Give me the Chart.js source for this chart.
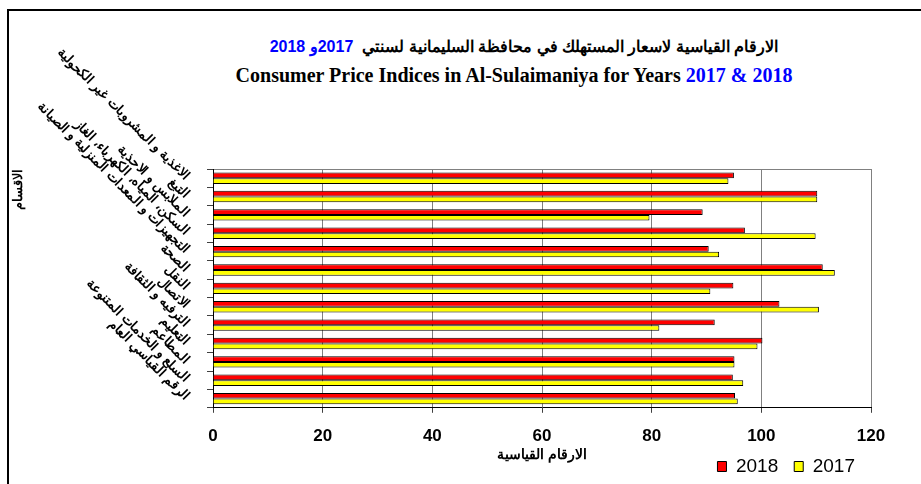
<!DOCTYPE html>
<html lang="ar">
<head>
    <meta charset="UTF-8">
    <title>Consumer Price Indices in Al-Sulaimaniya</title>
    <script src="https://cdn.jsdelivr.net/npm/chart.js"></script>
    <style>
        body {
            margin: 0;
            background: #fff;
            overflow: hidden;
        }
        .wrap {
            position: relative;
            width: 921px;
            height: 484px;
            overflow: hidden;
        }
        .frame {
            position: absolute;
            left: 7px;
            top: 9px;
            width: 2000px;
            height: 2000px;
            border-left: 2px solid #000;
            border-top: 2px solid #000;
        }
        .title {
            position: absolute;
            transform: translateX(-50%);
            white-space: nowrap;
            font-weight: bold;
            color: #000;
        }
        .title-ar {
            left: 524px;
            top: 37px;
            font-family: Arial, sans-serif;
            font-size: 16px;
        }
        .title-en {
            left: 514px;
            top: 64px;
            font-family: "Times New Roman", "Liberation Serif", serif;
            font-size: 20px;
        }
        .blue { color: #0000ff; }
        canvas { position: absolute; left: 0; top: 0; }
    </style>
</head>
<body>
<div class="wrap">
    <div class="frame"></div>
    <div class="title title-ar" dir="rtl">الارقام القياسية لاسعار المستهلك في محافظة السليمانية لسنتي&nbsp; <span class="blue">2017و 2018</span></div>
    <div class="title title-en" dir="ltr">Consumer Price Indices in Al-Sulaimaniya for Years <span class="blue">2017 &amp; 2018</span></div>
    <canvas id="cpiChart" width="921" height="484"></canvas>
</div>

<script>
    // categories (top to bottom)
    const categories = [
        'الاغذية و المشروبات غير الكحولية',
        'التبغ',
        'الملابس و الاحذية',
        'السكن، المياه، الكهرباء، الغاز',
        'التجهيزات و المعدات المنزلية و الصيانة',
        'الصحة',
        'النقل',
        'الاتصال',
        'الترفيه و الثقافة',
        'التعليم',
        'المطاعم',
        'السلع و الخدمات المتنوعة',
        'الرقم القياسي العام'
    ];

    const values2018 = [95.0, 110.2, 89.3, 97.0, 90.4, 111.2, 94.9, 103.3, 91.5, 100.2, 95.1, 94.8, 95.2];
    const values2017 = [94.0, 110.2, 79.6, 109.9, 92.3, 113.4, 90.7, 110.5, 81.4, 99.3, 95.1, 96.7, 95.7];

    const xMin = 0;
    const xMax = 120;
    const xStep = 20;

    const ctx = document.getElementById('cpiChart').getContext('2d');

    new Chart(ctx, {
        type: 'bar',
        data: {
            labels: categories,
            datasets: [
                {
                    label: '2018',
                    data: values2018,
                    backgroundColor: '#ff0000',
                    borderColor: '#000',
                    borderWidth: 1,
                    categoryPercentage: 0.62,
                    barPercentage: 1.0
                },
                {
                    label: '2017',
                    data: values2017,
                    backgroundColor: '#ffff00',
                    borderColor: '#000',
                    borderWidth: 1,
                    categoryPercentage: 0.62,
                    barPercentage: 1.0
                }
            ]
        },
        options: {
            indexAxis: 'y',
            responsive: false,
            animation: false,
            layout: {
                padding: { left: 10, right: 50, top: 169, bottom: -2 }
            },
            plugins: {
                title: { display: false },
                tooltip: { enabled: false },
                legend: {
                    position: 'bottom',
                    align: 'end',
                    labels: {
                        boxWidth: 9,
                        boxHeight: 10,
                        padding: 16,
                        color: '#000',
                        font: { family: 'Arial', size: 19 }
                    }
                }
            },
            scales: {
                x: {
                    min: xMin,
                    max: xMax,
                    ticks: {
                        stepSize: xStep,
                        color: '#000',
                        padding: 13,
                        font: { family: 'Arial', size: 17, weight: 'bold' }
                    },
                    grid: {
                        color: '#808080',
                        tickColor: '#404040',
                        tickLength: 5
                    },
                    border: { color: '#000', width: 1 },
                    title: {
                        display: true,
                        text: 'الارقام القياسية',
                        color: '#000',
                        font: { family: 'Arial', size: 14, weight: 'bold' },
                        // the title sits beside the legend, so it takes no height of its own
                        padding: { top: -12, bottom: -23 }
                    }
                },
                y: {
                    ticks: {
                        autoSkip: false,
                        minRotation: -45,
                        color: '#000',
                        padding: 20,
                        font: { family: 'Arial', size: 13, weight: 'bold' }
                    },
                    grid: {
                        offset: true,
                        // only the top edge of the plot is drawn, the rest are tick marks
                        color: (c) => c.index === 0 ? '#808080' : 'rgba(0,0,0,0)',
                        tickColor: '#404040',
                        tickLength: 6
                    },
                    border: { color: '#000', width: 1 },
                    title: {
                        display: true,
                        text: 'الاقسام',
                        align: 'end',
                        color: '#000',
                        font: { family: 'Arial', size: 13, weight: 'bold' },
                        padding: { top: 1, bottom: 0 }
                    },
                    afterFit: (scale) => {
                        scale.width = 203;
                        scale.paddingTop = 0;
                        scale.paddingBottom = 0;
                    }
                }
            }
        }
    });
</script>
</body>
</html>
